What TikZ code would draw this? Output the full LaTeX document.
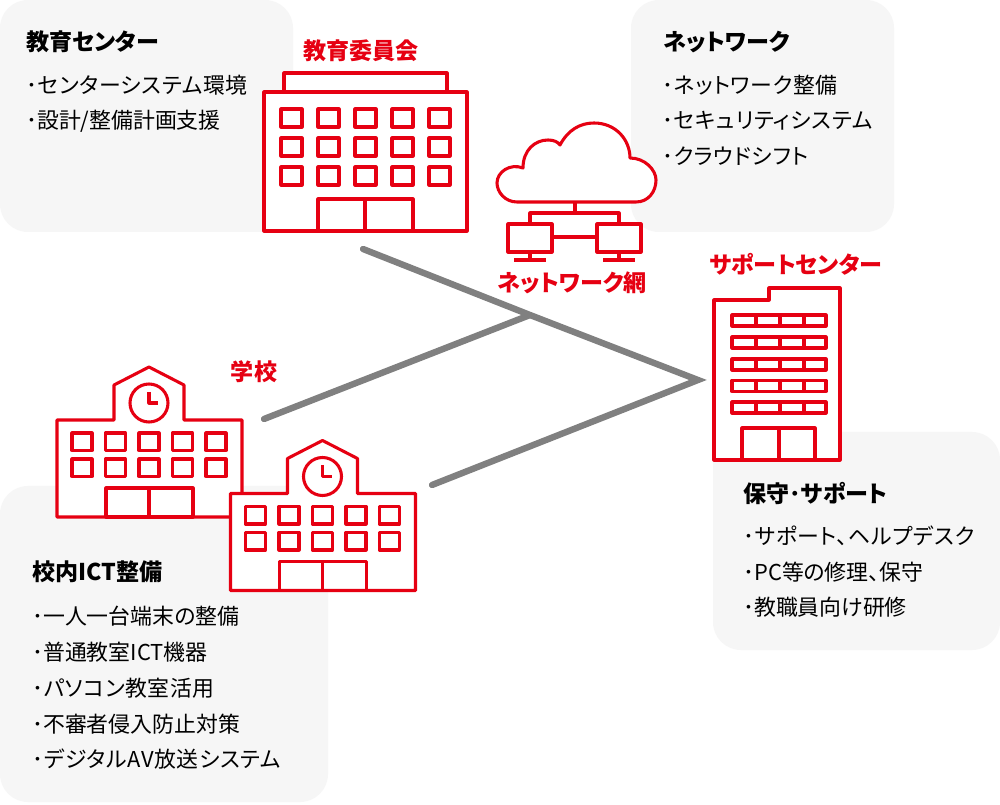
\documentclass[tikz,border=0pt]{standalone}
\usepackage{fontspec}
\setmainfont[RawFeature=+palt]{Noto Sans CJK JP}
\usepackage{xcolor}
\usepackage{tikz}
\definecolor{signalred}{rgb}{0.90196, 0, 0.07059}
\definecolor{panelgray}{rgb}{0.96471, 0.96471, 0.96471}
\definecolor{linkgray}{rgb}{0.50196, 0.50196, 0.50196}
\newcommand{\kanaline}[1]{\addfontfeature{LetterSpace=3}#1}

\begin{document}
\begin{tikzpicture}[x=0.75pt,y=-0.75pt]
	\tikzstyle{panel} = [fill=panelgray,rounded corners=21pt]
	\tikzstyle{outline} = [draw=signalred,line width=2.3pt,line join=round]
	\tikzstyle{wall} = [outline,fill=white]
	\tikzstyle{link} = [draw=linkgray,line width=4.8pt,line cap=round,line join=miter]
	\tikzstyle{placelabel} = [text=signalred,font=\fontsize{17.3}{20}\selectfont\bfseries,inner sep=0pt]
	\tikzstyle{heading} = [anchor=west,font=\fontsize{17.3}{20}\selectfont\bfseries,inner sep=0pt]
	\tikzstyle{entry} = [anchor=west,font=\fontsize{16.4}{20}\selectfont,inner sep=0pt]

	\useasboundingbox (0,0) rectangle (1000,805);
	\fill[white] (0,0) rectangle (1000,805);

	% Draw the panels.
	\fill[panel] (0,0) rectangle (293,232);
	\fill[panel] (631,0) rectangle (894,232);
	\fill[panel] (0,486) rectangle (328,802);
	\fill[panel] (713,432) rectangle (1000,650);

	% Draw the links.
	\coordinate (board) at (363,249);
	\coordinate (school) at (264,419);
	\coordinate (junction) at (530,315);
	\coordinate (support) at (698,380);
	\coordinate (school2) at (432,485);
	\draw[link] (board) -- (junction) -- (support) -- (school2);
	\draw[link] (school) -- (junction);

	% Draw the board building.
	\draw[wall] (284,73) rectangle (447,92);
	\draw[wall] (264,92) rectangle (467,231);
	\foreach \wy in {109,138,167}
	{
		\foreach \wx in {281,318,355,392,429}
		{
			\draw[outline] (\wx,\wy) rectangle (\wx+21,\wy+18);
		}
	}
	\draw[outline] (318,199) rectangle (413,231);
	\draw[outline] (365,199) -- (365,231);

	% Draw the cloud and the computers.
	\draw[wall] (517,202) .. controls (505,202) and (497,192) .. (497,183)
		.. controls (497,172) and (510,163) .. (523,168)
		.. controls (523,150) and (535,140) .. (548,140)
		.. controls (554,140) and (558,142) .. (560,145)
		.. controls (568,130) and (580,123) .. (594,123)
		.. controls (616,123) and (630,140) .. (630,158)
		.. controls (645,158) and (656,170) .. (656,180)
		.. controls (656,192) and (648,202) .. (636,202) -- cycle;
	\draw[outline] (575,202) -- (575,213);
	\draw[outline] (530,224) -- (530,213) -- (619,213) -- (619,224);
	\foreach \mx in {508,597}
	{
		\draw[outline] (\mx,224) rectangle (\mx+44,252);
		\draw[outline] (\mx+22,252) -- (\mx+22,260);
		\draw[outline] (\mx+6,260) -- (\mx+38,260);
	}
	\draw[outline] (552,237) -- (597,237);

	% Draw the support building.
	\draw[wall] (714,460) -- (714,300) -- (769,300) -- (769,288) -- (840,288) -- (840,460) -- cycle;
	\foreach \wy in {315,337,359,380.5,402}
	{
		\draw[outline] (732,\wy) rectangle (826,\wy+11);
		\foreach \wx in {756,780,804}
		{
			\draw[outline] (\wx,\wy) -- (\wx,\wy+11);
		}
	}
	\draw[outline] (742,428) rectangle (815,460);
	\draw[outline] (779,428) -- (779,460);

	% Draw the two schools.
	\foreach \sx/\sy in {0/0,173.5/73.5}
	{
		\begin{scope}[shift={(\sx,\sy)}]
			\draw[wall] (57,420) -- (114,420) -- (114,385) -- (149,367) -- (184,385)
				-- (184,420) -- (242,420) -- (242,517) -- (57,517) -- cycle;
			\draw[outline] (149,403) circle (14.25pt);
			\draw[outline] (149,392) -- (149,403) -- (158,403);
			\foreach \wy in {433,459}
			{
				\foreach \wx in {72,105.5,139,172.5,206}
				{
					\draw[outline] (\wx,\wy) rectangle (\wx+20,\wy+17.5);
				}
			}
			\draw[outline] (106,488) rectangle (193,517);
			\draw[outline] (149,488) -- (149,517);
		\end{scope}
	}

	% Place labels.
	\node[placelabel] (boardlabel) at (361,51) {教育委員会};
	\node[placelabel] (netlabel) at (572,283) {ネットワーク網};
	\node[placelabel] (supportlabel) at (796,264) {サポートセンター};
	\node[placelabel] (schoollabel) at (254,372) {学校};

	% Fill in the panels.
	\node[heading] (centerhead) at (26,42) {教育センター};
	\foreach \tp/\ty/\tx in {1/85/{\kanaline{･センターシステム環境}},2/121/{･設計/整備計画支援}}
	{
		\node[entry] (center\tp) at (26,\ty) {\tx};
	}

	\node[heading] (nethead) at (663,42) {ネットワーク};
	\foreach \tp/\ty/\tx in {1/85/{\kanaline{･ネットワーク整備}},2/121/{\kanaline{･セキュリティシステム}},3/156/{\kanaline{･クラウドシフト}}}
	{
		\node[entry] (net\tp) at (662,\ty) {\tx};
	}

	\node[heading] (campushead) at (32,572) {校内ICT整備};
	\foreach \tp/\ty/\tx in {1/616/･一人一台端末の整備,2/652/･普通教室ICT機器,3/688/{\kanaline{･パソコン教室活用}},4/724/･不審者侵入防止対策,5/759/{\kanaline{･デジタルAV放送システム}}}
	{
		\node[entry] (campus\tp) at (32,\ty) {\tx};
	}

	\node[heading] (carehead) at (743,494) {保守･サポート};
	\foreach \tp/\ty/\tx in {1/536/{\kanaline{･サポート、ヘルプデスク}},2/572/･PC等の修理、保守,3/607/･教職員向け研修}
	{
		\node[entry] (care\tp) at (743,\ty) {\tx};
	}
\end{tikzpicture}
\end{document}
